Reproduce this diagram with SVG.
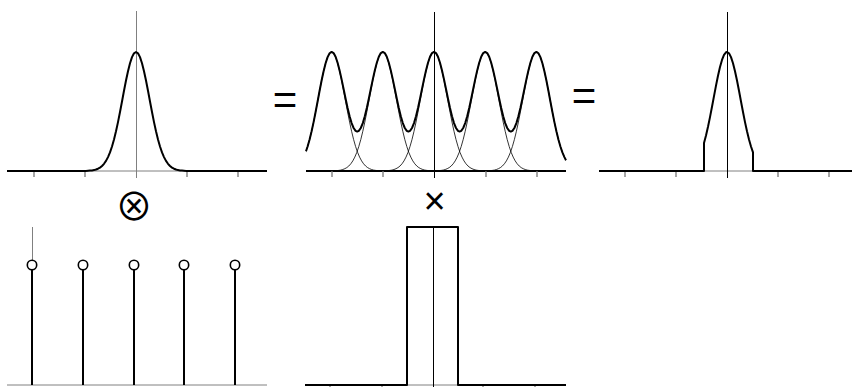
<svg xmlns="http://www.w3.org/2000/svg" xmlns:xlink="http://www.w3.org/1999/xlink" width="852" height="387" viewBox="0 0 852 387">
<style>
.thick{fill:none;stroke:#000;stroke-width:2;stroke-linejoin:round}
.thin{fill:none;stroke:#000;stroke-width:0.8}
.axis{fill:none;stroke:#808080;stroke-width:1}
.vax{fill:none;stroke:#000;stroke-width:1}
.tick{fill:none;stroke:#777;stroke-width:1.3}
.sym{font-family:"Liberation Sans",Arial,sans-serif;fill:#000}
.op{font-family:"Noto Sans CJK JP","Noto Sans CJK SC",sans-serif;fill:#000}
</style>
<defs>
<path id="g" d="M-50,0 L-48,-0.2 -46,-0.4 -44,-0.6 -42,-0.9 -40,-1.5 -38,-2.3 -36,-3.4 -34,-5 -32,-7.2 -30,-10.1 -28,-13.9 -26,-18.6 -24,-24.5 -22,-31.5 -20,-39.7 -18,-48.9 -16,-59 -14,-69.5 -12,-80.2 -10,-90.5 -8,-99.8 -6,-107.8 -4,-113.9 -2,-117.7 0,-119 2,-117.7 4,-113.9 6,-107.8 8,-99.8 10,-90.5 12,-80.2 14,-69.5 16,-59 18,-48.9 20,-39.7 22,-31.5 24,-24.5 26,-18.6 28,-13.9 30,-10.1 32,-7.2 34,-5 36,-3.4 38,-2.3 40,-1.5 42,-0.9 44,-0.6 46,-0.4 48,-0.2 50,0"/>
<clipPath id="cm"><rect x="306" y="0" width="260" height="200"/></clipPath>
</defs>

<g id="plot-gaussian">
<line class="axis" x1="7" y1="171" x2="267" y2="171"/>
<line class="axis" x1="136.5" y1="11" x2="136.5" y2="178"/>
<path class="tick" d="M34,171V177M85,171V177M187,171V177M238,171V177"/>
<path class="thick" d="M7,171H86M186,171H267"/>
<use xlink:href="#g" href="#g" class="thick" transform="translate(136,171)"/>
</g>

<g id="plot-sum">
<line x1="306" y1="171" x2="566" y2="171" stroke="#000" stroke-width="2"/>
<line class="vax" x1="434.5" y1="12" x2="434.5" y2="178"/>
<path class="tick" d="M332,171V177M383,171V177M486,171V177M537,171V177"/>
<g clip-path="url(#cm)">
<use xlink:href="#g" href="#g" class="thin" transform="translate(331.6,171)"/>
<use xlink:href="#g" href="#g" class="thin" transform="translate(382.8,171)"/>
<use xlink:href="#g" href="#g" class="thin" transform="translate(434,171)"/>
<use xlink:href="#g" href="#g" class="thin" transform="translate(485.2,171)"/>
<use xlink:href="#g" href="#g" class="thin" transform="translate(536.4,171)"/>
</g>
<path class="thick" d="M306,151.3 L307.6,146.5 309.6,139.5 311.6,131.3 313.6,122.1 315.6,112 317.6,101.5 319.6,90.8 321.6,80.5 323.6,71.2 325.6,63.2 327.6,57.1 329.6,53.3 331.6,51.9
l2,1.2 2,3.7 2,6 2,7.7 2,8.9 2,9.6 2,9.8 2,9.2 2,8.3 2,6.8 2,4.9 2,2.9 1.6,0.7 1.6,-0.7 2,-2.9 2,-4.9 2,-6.8 2,-8.3 2,-9.2 2,-9.8 2,-9.6 2,-8.9 2,-7.7 2,-6 2,-3.7 2,-1.2
l2,1.2 2,3.7 2,6 2,7.7 2,8.9 2,9.6 2,9.8 2,9.2 2,8.3 2,6.8 2,4.9 2,2.9 1.6,0.7 1.6,-0.7 2,-2.9 2,-4.9 2,-6.8 2,-8.3 2,-9.2 2,-9.8 2,-9.6 2,-8.9 2,-7.7 2,-6 2,-3.7 2,-1.2
l2,1.2 2,3.7 2,6 2,7.7 2,8.9 2,9.6 2,9.8 2,9.2 2,8.3 2,6.8 2,4.9 2,2.9 1.6,0.7 1.6,-0.7 2,-2.9 2,-4.9 2,-6.8 2,-8.3 2,-9.2 2,-9.8 2,-9.6 2,-8.9 2,-7.7 2,-6 2,-3.7 2,-1.2
l2,1.2 2,3.7 2,6 2,7.7 2,8.9 2,9.6 2,9.8 2,9.2 2,8.3 2,6.8 2,4.9 2,2.9 1.6,0.7 1.6,-0.7 2,-2.9 2,-4.9 2,-6.8 2,-8.3 2,-9.2 2,-9.8 2,-9.6 2,-8.9 2,-7.7 2,-6 2,-3.7 2,-1.2
L538.4,53.3 540.4,57.1 542.4,63.2 544.4,71.2 546.4,80.5 548.4,90.8 550.4,101.5 552.4,112 554.4,122.1 556.4,131.3 558.4,139.5 560.4,146.5 562.4,152.4 564.4,157.1 566,160.2"/>
</g>

<g id="plot-windowed">
<line class="axis" x1="599" y1="171" x2="852" y2="171"/>
<line class="vax" x1="727.5" y1="12" x2="727.5" y2="178"/>
<path class="tick" d="M625,171V177M676,171V177M778,171V177M829,171V177"/>
<path class="thick" d="M599,171H704V143.1 L706,135.5 708,126.8 710,117.1 712,106.8 714,96.1 716,85.6 718,75.7 720,67 722,59.9 724,54.9 726,52.3 727,52 729,53.3 731,57.1 733,63.2 735,71.2 737,80.5 739,90.8 741,101.5 743,112 745,122.1 747,131.3 749,139.5 751,146.5 753,152.4 V171H852"/>
</g>

<g id="plot-comb">
<line class="axis" x1="7" y1="385" x2="267" y2="385"/>
<line class="axis" x1="32.5" y1="227" x2="32.5" y2="261"/>
<path class="thick" d="M32,269.5V385M83,269.5V385M134,269.5V385M184,269.5V385M235,269.5V385"/>
<g fill="#fff" stroke="#000" stroke-width="1.6">
<circle cx="32" cy="265" r="4.7"/>
<circle cx="83" cy="265" r="4.7"/>
<circle cx="134" cy="265" r="4.7"/>
<circle cx="184" cy="265" r="4.7"/>
<circle cx="235" cy="265" r="4.7"/>
</g>
</g>

<g id="plot-rect">
<line class="axis" x1="305" y1="385" x2="566" y2="385"/>
<path class="tick" d="M330,385V391M382,385V391M483,385V391M535,385V391"/>
<line class="vax" x1="433.5" y1="227" x2="433.5" y2="387"/>
<path class="thick" d="M305,385H407V227H458V385H566"/>
</g>

<g id="operators">
<text class="sym" x="285" y="114" font-size="42" text-anchor="middle">=</text>
<text class="sym" x="584" y="110" font-size="42" text-anchor="middle">=</text>
<text class="op" x="134" y="220" font-size="38" text-anchor="middle">⊗</text>
<text class="sym" x="434.5" y="214" font-size="38" text-anchor="middle">×</text>
</g>
</svg>
